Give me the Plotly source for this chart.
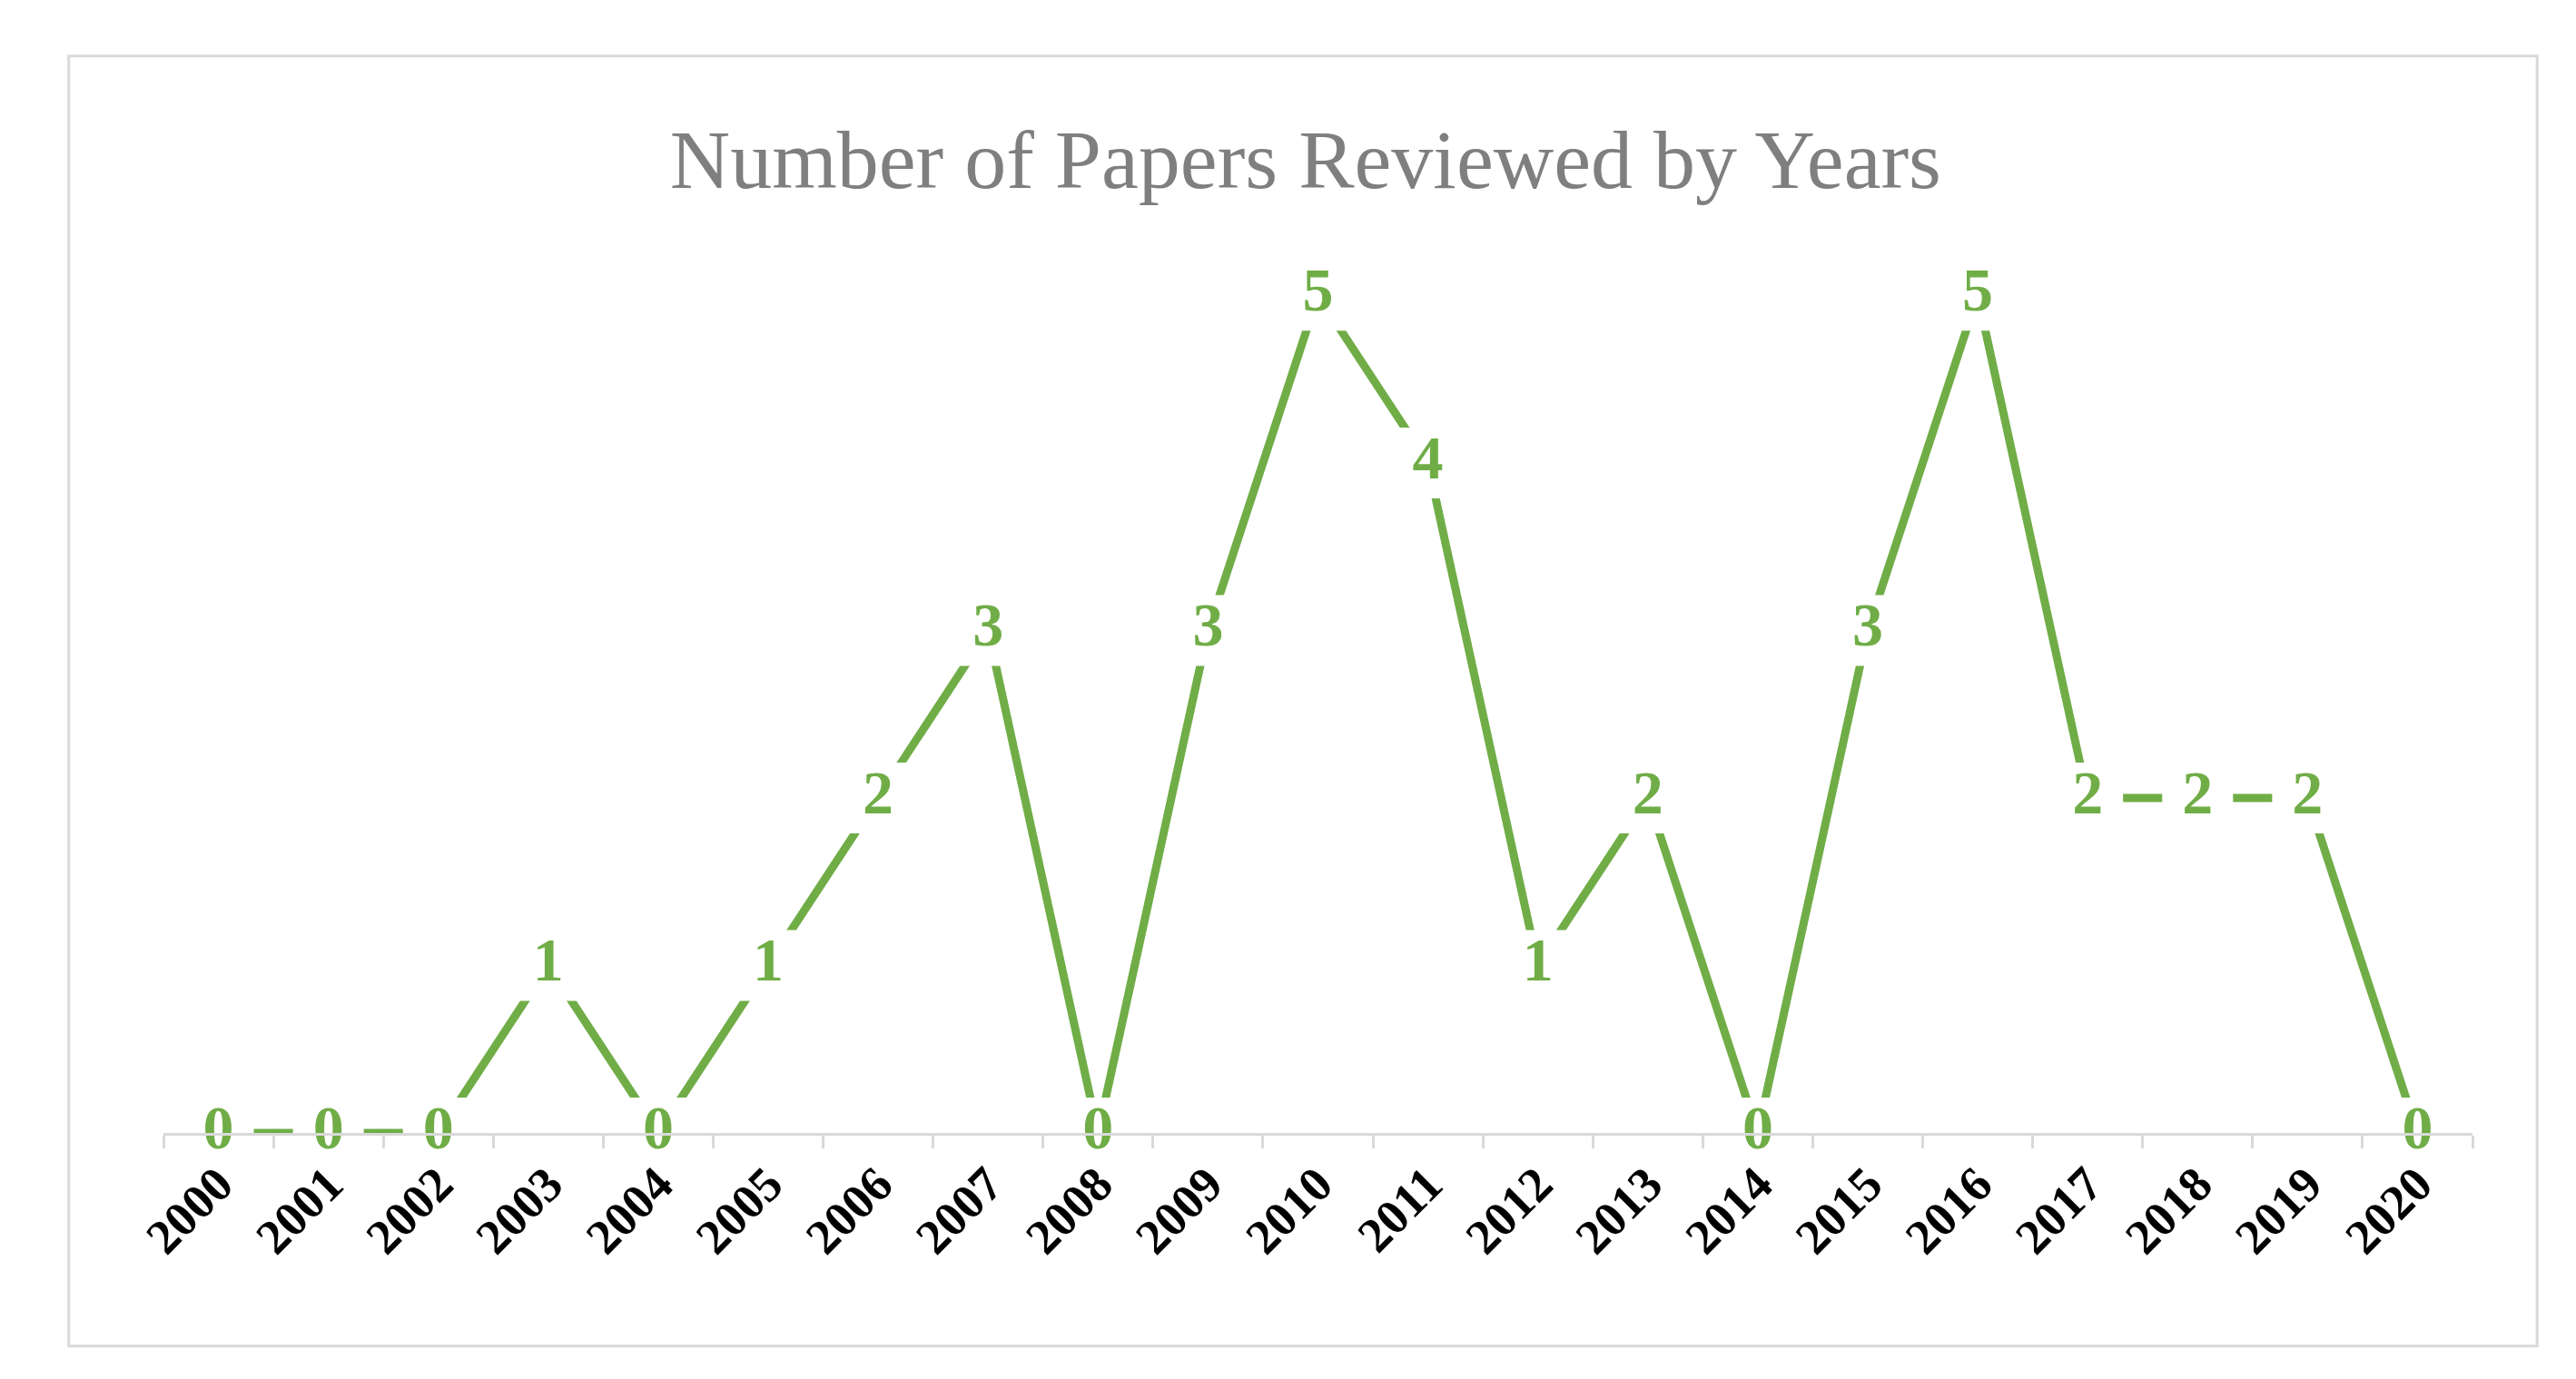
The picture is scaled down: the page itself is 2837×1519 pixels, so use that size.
import plotly.graph_objects as go

years = [str(y) for y in range(2000, 2021)]
papers = [0, 0, 0, 1, 0, 1, 2, 3, 0, 3, 5, 4, 1, 2, 0, 3, 5, 2, 2, 2, 0]

green = "#70AD47"
serif = "Liberation Serif, DejaVu Serif, serif"

fig = go.Figure()
fig.add_trace(go.Scatter(x=years, y=papers, mode="lines",
                         line=dict(color=green, width=9), hoverinfo="skip",
                         cliponaxis=False))
fig.add_trace(go.Scatter(x=years, y=papers, mode="markers+text",
                         marker=dict(symbol="square", size=78, color="white"),
                         text=[f"<b>{v}</b>" for v in papers],
                         textposition="middle center",
                         textfont=dict(family=serif, size=68, color=green),
                         hoverinfo="skip", cliponaxis=False))

fig.add_shape(type="rect", xref="paper", yref="paper",
              x0=-0.041, x1=1.028, y0=-0.240, y1=1.213,
              line=dict(color="#D9D9D9", width=3), fillcolor="rgba(0,0,0,0)")

fig.update_layout(
    width=2837, height=1519,
    margin=dict(l=172, r=122, t=262, b=279),
    plot_bgcolor="white", paper_bgcolor="white",
    showlegend=False,
    title=dict(text="Number of Papers Reviewed by Years", x=0.504, xanchor="center",
               y=0.89, yanchor="middle",
               font=dict(family=serif, size=92, color="#7F7F7F")),
    xaxis=dict(type="category", range=[-0.5, 20.5], showgrid=False,
               showline=True, linecolor="#D9D9D9", linewidth=3,
               ticks="outside", ticklen=14, tickcolor="#D9D9D9", tickwidth=3,
               tickson="boundaries", tickangle=-45,
               tickfont=dict(family=serif, size=54, color="black", weight="bold")),
    yaxis=dict(range=[0, 5.3], visible=False),
)

fig.write_html("out.html")
